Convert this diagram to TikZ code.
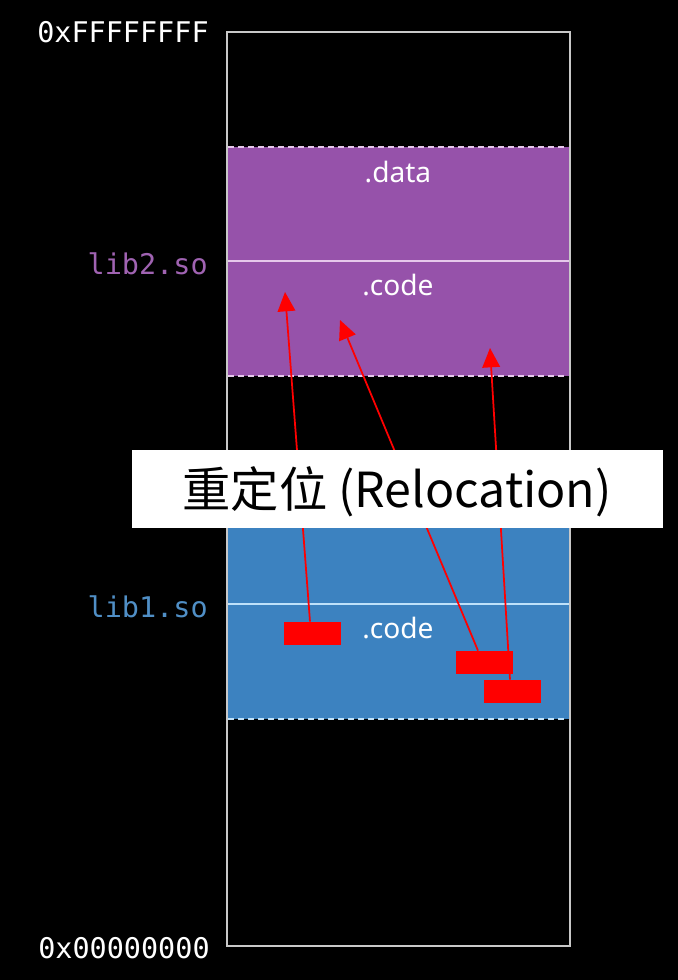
\documentclass[tikz,border=0pt]{standalone}
\usepackage{fontspec}
\setmainfont{Noto Sans}
\setmonofont{DejaVu Sans Mono}
\newfontfamily\cjk{Noto Sans CJK SC}
\usetikzlibrary{arrows.meta}
\definecolor{libpurple}{RGB}{150,82,170}
\definecolor{libblue}{RGB}{60,130,192}
\definecolor{purpleline}{RGB}{230,200,235}
\definecolor{blueline}{RGB}{190,225,250}
\definecolor{frame}{RGB}{200,200,200}
\newcommand{\Patch}[3]{\node[patch] (#1) at (#2,#3) {};}
\tikzset{
  patch/.style={fill=red,draw=red,line width=.4pt,minimum width=1.12cm,minimum height=.44cm,inner sep=0pt},
  addr/.style={font=\ttfamily\fontsize{16.2}{19}\selectfont,anchor=base east,inner sep=0pt},
  sect/.style={font=\fontsize{16}{19}\selectfont,text=white,anchor=base,inner sep=0pt},
  reloc/.style={-{Triangle[length=11pt,width=10pt]},red,line width=1pt},
  sep/.style={line width=1.1pt},
  cut/.style={line width=1pt,dash pattern=on 3.4pt off 2.3pt}
}

\begin{document}
\begin{tikzpicture}[x=0.02cm,y=-0.02cm]
    \fill[black] (0,0) rectangle (678,980);
    \useasboundingbox (0,0) rectangle (678,980);

    \fill[libpurple] (228,147) rectangle (569,376);
    \fill[libblue] (228,490) rectangle (569,719);
    \draw[sep,purpleline] (228,261) -- (569,261);
    \draw[sep,blueline] (228,604) -- (569,604);
    \draw[cut,purpleline] (228,147) -- (569,147);
    \draw[cut,purpleline] (228,376) -- (569,376);
    \draw[cut,blueline] (228,719) -- (569,719);
    \draw[frame,line width=1.2pt] (227,32) rectangle (570,946);

    \node[sect] (data2) at (398,182) {.data};
    \node[sect] (code2) at (398,295) {.code};
    \node[sect] (code1) at (398,638) {.code};

    \node[addr,white] (top) at (209,43) {0xFFFFFFFF};
    \node[addr,white] (bottom) at (210,958) {0x00000000};
    \node[addr,libpurple!90!white] (lib2) at (208,274) {lib2.so};
    \node[addr,libblue!90!white] (lib1) at (208,617) {lib1.so};

    \Patch{r1}{312}{633}
    \Patch{r2}{484}{662}
    \Patch{r3}{512}{691}

    \coordinate (t1) at (285,292);
    \coordinate (t2) at (340,320);
    \coordinate (t3) at (490,348);

    \draw[reloc] ([xshift=-.04cm]r1.north) -- (t1);
    \draw[reloc] ([xshift=-.12cm]r2.north) -- (t2);
    \draw[reloc] ([xshift=-.04cm]r3.north) -- (t3);

    \node[fill=white,minimum width=10.62cm,minimum height=1.56cm,inner sep=0pt] (box) at (397.5,489) {};
    \node[font=\cjk\fontsize{27.5}{32}\selectfont,anchor=base,inner sep=0pt] (title) at (397,507) {重定位 (Relocation)};
\end{tikzpicture}
\end{document}
